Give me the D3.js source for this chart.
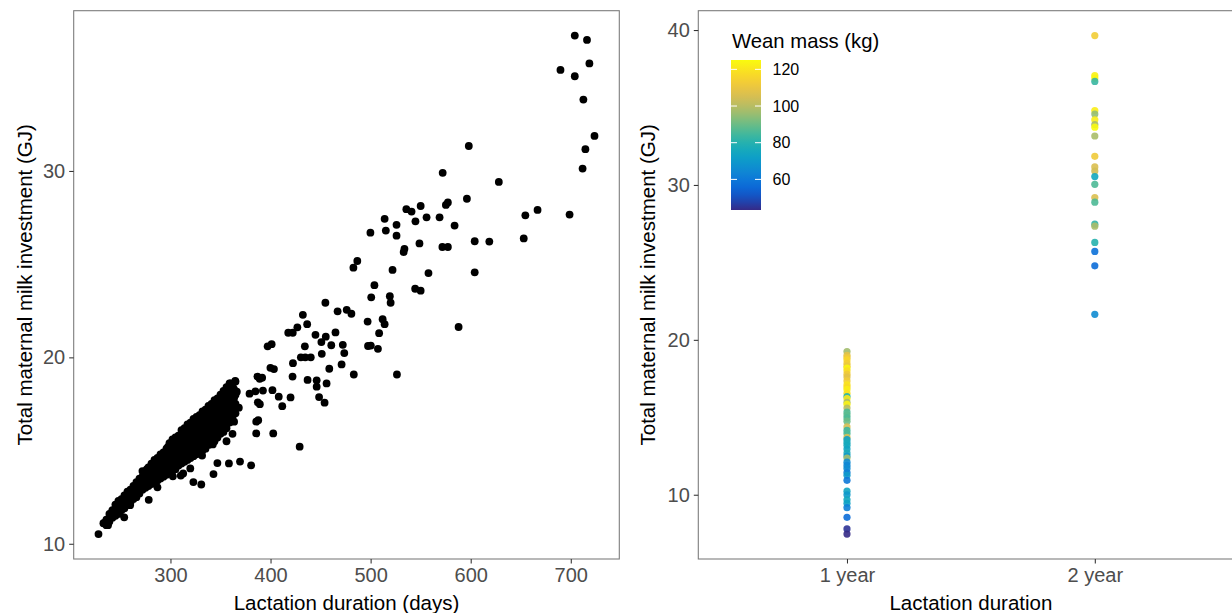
<!DOCTYPE html>
<html><head><meta charset="utf-8">
<script src="https://cdn.jsdelivr.net/npm/d3@7"></script>
<style>
html,body{margin:0;padding:0;background:#fff;}
svg text{font-family:"Liberation Sans",Arial,Helvetica,sans-serif;}
</style></head>
<body><svg id="chart" width="1232" height="613"></svg>
<script>
// ---- Left panel: lactation duration (days) vs total milk investment (GJ)
const leftTicksX = [300, 400, 500, 600, 700];
const leftTicksY = [10, 20, 30];
// scattered points [days, GJ]
const sparsePoints = [
 [704,37.26],[716.2,37.03],[718.6,35.77],[689.7,35.42],[704,35.08],[712.6,33.83],[723.7,31.88],[714.6,31.17],[711.8,30.13],[698.8,27.66],
 [598.1,31.34],[572,29.9],[628.1,29.41],[596.2,28.51],[666.8,27.91],[654.6,27.62],[653,26.38],[618.6,26.21],[604,26.23],[604,24.56],[587.9,21.63],
 [535.7,27.95],[540.9,27.82],[550,28.12],[544.8,27.3],[555.9,27.51],[568.9,27.51],[575.2,28.18],[577.2,28.31],[583.9,27.07],
 [514,27.43],[515.2,26.8],[525.9,27.11],[525.9,26.53],[499.8,26.69],[548.8,26.11],[571.7,25.92],[577.2,25.92],[533.8,25.82],[533,25.65],
 [482.8,24.81],[486.7,25.17],[521.9,24.69],[557.8,24.52],[503.8,23.87],[544.5,23.68],[550,23.58],[519.2,23.28],[520,22.93],[500.6,23.22],
 [454.8,22.93],[467,22.47],[476.1,22.55],[480.8,22.34],[432.3,22.28],[512,22.05],[497,21.92],[514,21.78],[436.6,21.78],[426.8,21.61],
 [417.7,21.32],[422.2,21.32],[464.9,21.34],[444.9,21.21],[455.2,21.11],[508.5,21.3],[397.1,20.59],[401.1,20.71],[434.3,20.59],[460.7,20.65],
 [472.2,20.67],[450.8,20.82],[497.4,20.61],[500.2,20.63],[507.3,20.46],[473.7,20.23],[451.2,20.19],[430.3,20.0],[440.2,20.0],[434.7,20.0],
 [399.9,19.44],[403.4,19.37],[422.4,19.69],[471,19.62],[458.7,19.39],[386.9,18.97],[391.6,18.91],[389.2,18.85],[422,18.97],[483.2,19.08],[526.3,19.08],
 [437,18.79],[446.1,18.77],[446.1,18.43],[456,18.6],[379,18.05],[384.9,18.18],[392.4,18.22],[401.9,18.24],[408.2,17.89],[420,17.85],
 [411.7,17.38],[448.5,17.87],[454,17.57],[387.3,17.59],[389.3,17.49],[385.7,16.55],[387.7,16.63],[385.7,15.92],[402.7,15.92],[429.1,15.21],
 [369.5,14.41],[358.4,14.31],[346.9,14.33],[380.6,14.21],[343,13.74],[330.8,13.18],[322.9,13.31],[310.3,13.66],[302.4,13.62],[312.7,13.77],[319.8,14.04],
 [278.3,12.36],[287,13.03],[259.7,12.07],[253.8,11.42],[237.6,11.0],[233.7,11.11],[228.1,10.52],[239.2,11.38],[242,11.74],
 [356,15.5],[362,15.9],[363.6,16.55],[368.3,17.3],[366.3,18.16],[360,18.6],[364.7,18.74],[358.3,18.14],[342.3,15.33],[331.6,14.73],[314.6,14.46]
];
// dense cloud (overlapping points) [days, GJ]
const densePoints = [
 [233,11.1],[236,11.0],[236,11.3],[239,11.2],[239,11.6],[242,11.4],[242,11.8],[245,11.5],[245,11.9],[245,12.1],
 [248,11.6],[248,12.0],[248,12.3],[251,11.8],[251,12.2],[251,12.4],[254,11.9],[254,12.3],[254,12.6],[257,12.1],[257,12.5],[257,12.8],
 [260,12.2],[260,12.6],[260,12.9],[263,12.4],[263,12.8],[263,13.1],[266,12.5],[266,12.9],[266,13.3],[269,12.7],[269,13.1],[269,13.5],
 [272,12.9],[272,13.3],[272,13.6],[272,13.9],[275,13.0],[275,13.4],[275,13.7],[275,13.9],[278,13.1],[278,13.5],[278,13.9],[278,14.1],
 [281,13.2],[281,13.6],[281,14.0],[281,14.3],[284,13.3],[284,13.7],[284,14.1],[284,14.5],[287,13.4],[287,13.8],[287,14.2],[287,14.6],
 [290,13.5],[290,13.9],[290,14.3],[290,14.8],[293,13.6],[293,14.0],[293,14.5],[293,14.9],[296,13.7],[296,14.1],[296,14.6],[296,15.1],
 [299,13.8],[299,14.2],[299,14.7],[299,15.0],[299,15.4],[302,13.9],[302,14.3],[302,14.8],[302,15.2],[302,15.6],
 [305,14.0],[305,14.4],[305,14.9],[305,15.3],[305,15.7],[308,14.2],[308,14.6],[308,15.0],[308,15.4],[308,15.8],
 [311,14.3],[311,14.7],[311,15.1],[311,15.5],[311,15.9],[311,16.1],[314,14.4],[314,14.8],[314,15.2],[314,15.6],[314,16.0],[314,16.2],
 [317,14.5],[317,14.9],[317,15.3],[317,15.7],[317,16.1],[317,16.4],[320,14.6],[320,15.0],[320,15.4],[320,15.8],[320,16.2],[320,16.5],
 [323,14.7],[323,15.1],[323,15.5],[323,15.9],[323,16.3],[323,16.7],[326,14.8],[326,15.2],[326,15.6],[326,16.0],[326,16.4],[326,16.8],
 [329,14.9],[329,15.3],[329,15.7],[329,16.1],[329,16.5],[329,16.9],[332,15.0],[332,15.4],[332,15.8],[332,16.2],[332,16.6],[332,17.1],
 [335,15.1],[335,15.5],[335,15.9],[335,16.3],[335,16.8],[335,17.2],[338,15.3],[338,15.7],[338,16.1],[338,16.5],[338,16.9],[338,17.4],
 [341,15.4],[341,15.8],[341,16.2],[341,16.6],[341,17.1],[341,17.5],[344,15.5],[344,15.9],[344,16.3],[344,16.7],[344,17.2],[344,17.7],
 [347,15.7],[347,16.1],[347,16.5],[347,16.9],[347,17.4],[347,17.8],[350,15.9],[350,16.3],[350,16.7],[350,17.1],[350,17.5],[350,18.0],
 [353,16.0],[353,16.5],[353,16.9],[353,17.3],[353,17.7],[353,18.2],[356,16.2],[356,16.6],[356,17.0],[356,17.4],[356,17.9],[356,18.4],
 [359,16.5],[359,16.9],[359,17.3],[359,17.7],[359,18.1],[359,18.6],[362,16.8],[362,17.2],[362,17.6],[362,18.0],[362,18.5],
 [365,17.0],[365,17.5],[365,18.0],[365,18.7]
];
const densePointsMid = [
 [264.5,12.6],[264.5,13.0],[267.5,12.8],[267.5,13.2],[270.5,12.9],[270.5,13.4],[273.5,13.1],[273.5,13.5],[273.5,13.8],
 [276.5,13.2],[276.5,13.6],[276.5,14.0],[279.5,13.3],[279.5,13.7],[279.5,14.1],[282.5,13.4],[282.5,13.8],[282.5,14.2],
 [285.5,13.5],[285.5,13.9],[285.5,14.4],[288.5,13.6],[288.5,14.0],[288.5,14.5],[291.5,13.7],[291.5,14.1],[291.5,14.6],
 [294.5,13.8],[294.5,14.3],[294.5,14.8],[297.5,13.9],[297.5,14.4],[297.5,14.9],[297.5,15.2],[300.5,14.0],[300.5,14.5],[300.5,15.0],[300.5,15.4],
 [303.5,14.1],[303.5,14.6],[303.5,15.1],[303.5,15.5],[306.5,14.3],[306.5,14.7],[306.5,15.2],[306.5,15.6],[309.5,14.4],[309.5,14.9],[309.5,15.3],[309.5,15.7],
 [312.5,14.5],[312.5,15.0],[312.5,15.4],[312.5,15.8],[315.5,14.6],[315.5,15.1],[315.5,15.5],[315.5,15.9],
 [318.5,14.7],[318.5,15.2],[318.5,15.6],[318.5,16.0],[318.5,16.3],[321.5,14.8],[321.5,15.3],[321.5,15.7],[321.5,16.1],[321.5,16.4],
 [324.5,14.9],[324.5,15.4],[324.5,15.8],[324.5,16.2],[324.5,16.6],[327.5,15.0],[327.5,15.5],[327.5,15.9],[327.5,16.3],[327.5,16.7],
 [330.5,15.2],[330.5,15.6],[330.5,16.0],[330.5,16.4],[330.5,16.9],[333.5,15.3],[333.5,15.7],[333.5,16.1],[333.5,16.6],[333.5,17.0],
 [336.5,15.4],[336.5,15.8],[336.5,16.2],[336.5,16.7],[336.5,17.2],[339.5,15.6],[339.5,16.0],[339.5,16.4],[339.5,16.8],[339.5,17.3],
 [342.5,15.7],[342.5,16.1],[342.5,16.5],[342.5,17.0],[342.5,17.5],[345.5,15.8],[345.5,16.2],[345.5,16.7],[345.5,17.1],[345.5,17.6],
 [348.5,16.0],[348.5,16.4],[348.5,16.8],[348.5,17.3],[348.5,17.7],[351.5,16.2],[351.5,16.6],[351.5,17.0],[351.5,17.4],[351.5,17.9],
 [354.5,16.3],[354.5,16.8],[354.5,17.2],[354.5,17.6],[354.5,18.1],[357.5,16.5],[357.5,16.9],[357.5,17.4],[357.5,17.8],[357.5,18.3],
 [360.5,16.7],[360.5,17.1],[360.5,17.5],[360.5,18.0],[360.5,18.4],[363.5,17.0],[363.5,17.4],[363.5,17.8],[363.5,18.3]
];

// ---- Right panel: lactation duration class vs milk investment, coloured by wean mass
const durationClasses = ["1 year", "2 year"];
const rightTicksY = [10, 20, 30, 40];
const oneYearGJ =   [19.24,19.0,18.86,18.7,18.48,18.3,18.18,18.0,17.78,17.6,17.35,17.1,16.95,16.8,16.55,16.34,16.2,15.97,15.84,15.6,15.34,15.15,14.96,14.75,14.38,14.15,13.95,13.7,13.56,13.38,13.2,12.95,12.69,12.5,12.37,12.1,11.89,11.7,11.43,11.25,10.93,10.23,10.0,9.67,9.45,9.17,8.54,7.79,7.46];
const oneYearWean = [97,108,112,116,113,110,124,118,112,108,113,120,117,122,119,80,121,98,123,100,86,88,86,90,105,84,86,104,72,77,76,74,77,70,97,66,64,66,62,70,60,74,70,75,73,62,57,45,43.3];
const twoYearGJ =   [39.64,37.06,36.9,36.68,34.8,34.58,34.21,33.9,33.73,33.16,31.85,31.16,30.9,30.54,30.04,29.19,28.89,27.47,27.34,26.29,25.71,24.78,21.65];
const twoYearWean = [113,123,124,83,122,95,122,98,125.1,98,112,106,104,75,86,106,86,82,98,80,58,57,66];
const weanTicks = [60, 80, 100, 120];
// parula-like palette stops
const paletteStops = ["#352a87","#0363e1","#1485d4","#06a7c6","#38b99e","#92bf73","#d9ba56","#fcce2e","#f9fb0e"];

const svg = d3.select("#chart");
const FONT = '"Liberation Sans",Arial,Helvetica,sans-serif';
const borderCol = "#333333";

function expand(ext, f=0.05){ const r = ext[1]-ext[0]; return [ext[0]-r*f, ext[1]+r*f]; }

// ===== LEFT PANEL =====
const L = {x0:73.7, x1:619.3, y0:10.7, y1:559};
const allLeft = sparsePoints.concat(densePoints, densePointsMid);
const xL = d3.scaleLinear().domain(expand(d3.extent(allLeft, d=>d[0]))).range([L.x0, L.x1]);
const yL = d3.scaleLinear().domain(expand(d3.extent(allLeft, d=>d[1]))).range([L.y1, L.y0]);

const gL = svg.append("g");
gL.append("g").selectAll("circle").data(allLeft).join("circle")
  .attr("cx", d=>xL(d[0])).attr("cy", d=>yL(d[1])).attr("r", 3.9).attr("fill", "#000");
gL.append("rect").attr("x", L.x0).attr("y", L.y0).attr("width", L.x1-L.x0).attr("height", L.y1-L.y0)
  .attr("fill","none").attr("stroke", borderCol).attr("stroke-width", 1.07).attr("stroke-opacity",0.65);

const axXL = gL.append("g").attr("transform", `translate(0,${L.y1})`)
  .call(d3.axisBottom(xL).tickValues(leftTicksX).tickSize(4.5).tickPadding(4).tickFormat(d3.format("d")));
const axYL = gL.append("g").attr("transform", `translate(${L.x0},0)`)
  .call(d3.axisLeft(yL).tickValues(leftTicksY).tickSize(4.5).tickPadding(4).tickFormat(d3.format("d")));

// ===== RIGHT PANEL =====
const R = {x0:698.3, x1:1243.5, y0:10.7, y1:559};
const xR = d3.scalePoint().domain(durationClasses).range([R.x0, R.x1]).padding(0.6);
const allRightGJ = oneYearGJ.concat(twoYearGJ);
const yR = d3.scaleLinear().domain(expand(d3.extent(allRightGJ))).range([R.y1, R.y0]);
const allWean = oneYearWean.concat(twoYearWean);
const color = d3.scaleSequential(d3.interpolateRgbBasis(paletteStops)).domain(d3.extent(allWean));

const rightPts = oneYearGJ.map((g,i)=>({cls:"1 year", gj:g, w:oneYearWean[i]}))
  .concat(twoYearGJ.map((g,i)=>({cls:"2 year", gj:g, w:twoYearWean[i]})));

const gR = svg.append("g");
gR.append("g").selectAll("circle").data(rightPts).join("circle")
  .attr("cx", d=>xR(d.cls)).attr("cy", d=>yR(d.gj)).attr("r", 3.6)
  .attr("fill", d=>color(d.w)).attr("fill-opacity", 0.9);
gR.append("rect").attr("x", R.x0).attr("y", R.y0).attr("width", R.x1-R.x0).attr("height", R.y1-R.y0)
  .attr("fill","none").attr("stroke", borderCol).attr("stroke-width", 1.07).attr("stroke-opacity",0.65);
const axXR = gR.append("g").attr("transform", `translate(0,${R.y1})`)
  .call(d3.axisBottom(xR).tickSize(4.5).tickPadding(4));
const axYR = gR.append("g").attr("transform", `translate(${R.x0},0)`)
  .call(d3.axisLeft(yR).tickValues(rightTicksY).tickSize(4.5).tickPadding(4).tickFormat(d3.format("d")));

// axis styling
[axXL, axYL, axXR, axYR].forEach(a=>{
  a.select(".domain").remove();
  a.selectAll(".tick line").attr("stroke", "#333333").attr("stroke-width", 1.07);
  a.selectAll(".tick text").attr("fill", "#4D4D4D").style("font-size", "20px").style("font-family", FONT);
});

// axis titles
svg.append("text").attr("x", (L.x0+L.x1)/2).attr("y", 609.5).attr("text-anchor","middle")
  .style("font-size","20.5px").attr("fill","#000").text("Lactation duration (days)");
svg.append("text").attr("x", (R.x0+R.x1)/2).attr("y", 609.5).attr("text-anchor","middle")
  .style("font-size","20.5px").attr("fill","#000").text("Lactation duration");
svg.append("text").attr("transform", `translate(32,${(L.y0+L.y1)/2}) rotate(-90)`).attr("text-anchor","middle")
  .style("font-size","20.5px").attr("fill","#000").text("Total maternal milk investment (GJ)");
svg.append("text").attr("transform", `translate(655,${(R.y0+R.y1)/2}) rotate(-90)`).attr("text-anchor","middle")
  .style("font-size","20.5px").attr("fill","#000").text("Total maternal milk investment (GJ)");

// ===== COLOUR LEGEND =====
const bar = {x:731, y:60, w:30, h:150};
const legY = d3.scaleLinear().domain(color.domain()).range([bar.y+bar.h, bar.y]);
const defs = svg.append("defs");
const grad = defs.append("linearGradient").attr("id","wgrad").attr("x1","0").attr("y1","1").attr("x2","0").attr("y2","0");
d3.range(0, 1.0001, 0.05).forEach(t=>{
  const v = color.domain()[0] + t*(color.domain()[1]-color.domain()[0]);
  grad.append("stop").attr("offset", t).attr("stop-color", color(v));
});
svg.append("text").attr("x", 732).attr("y", 47.5).style("font-size","20.3px").attr("fill","#000").text("Wean mass (kg)");
svg.append("rect").attr("x", bar.x).attr("y", bar.y).attr("width", bar.w).attr("height", bar.h).attr("fill","url(#wgrad)");
const lt = svg.append("g");
lt.selectAll("line.l").data(weanTicks).join("line").attr("class","l")
  .attr("x1", bar.x).attr("x2", bar.x+6).attr("y1", d=>legY(d)).attr("y2", d=>legY(d))
  .attr("stroke","#fff").attr("stroke-width",1);
lt.selectAll("line.r").data(weanTicks).join("line").attr("class","r")
  .attr("x1", bar.x+bar.w-6).attr("x2", bar.x+bar.w).attr("y1", d=>legY(d)).attr("y2", d=>legY(d))
  .attr("stroke","#fff").attr("stroke-width",1);
lt.selectAll("text").data(weanTicks).join("text")
  .attr("x", 772.5).attr("y", d=>legY(d)).attr("dy","0.36em")
  .style("font-size","16px").attr("fill","#000").text(d=>d);
</script></body></html>
